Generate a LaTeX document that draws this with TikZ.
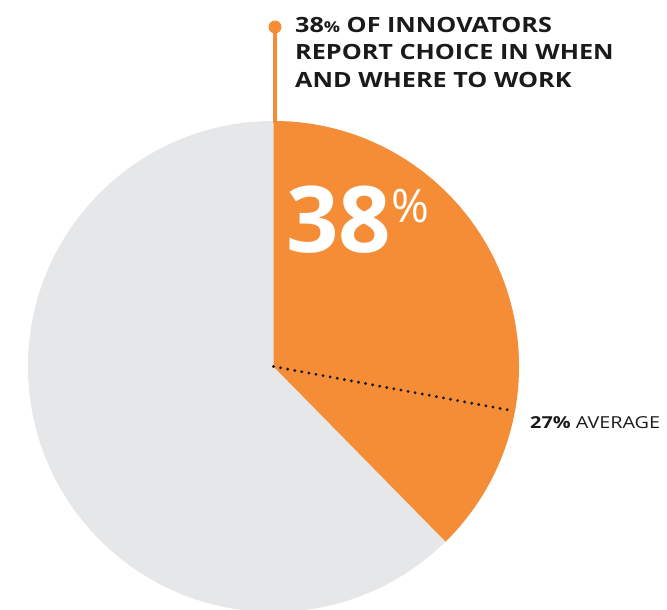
\documentclass[tikz,border=0pt]{standalone}
\usepackage{fontspec}
\setmainfont{Open Sans}
\newfontfamily\widefont[FakeStretch=1.2]{Open Sans}
\definecolor{pieorange}{HTML}{F58C36}
\definecolor{piegrey}{HTML}{E6E7E8}
\definecolor{ink}{HTML}{1A1A1A}
\begin{document}
\begin{tikzpicture}[x=1pt,y=-1pt,
  titletext/.style={anchor=base west, inner sep=0pt, text=ink, font=\widefont\fontsize{21}{21}\selectfont\bfseries},
  leader/.style={draw=pieorange, line width=3.3pt},
  avgline/.style={line width=3.2pt, line cap=round, dash pattern=on 0pt off 7.2pt, draw=ink}]
\useasboundingbox (0,0) rectangle (667,610);
\clip (0,0) rectangle (667,610);
\coordinate (C) at (273.5,366.5);
% pie
\fill[piegrey] (C) circle[radius=245.5];
\fill[pieorange] (C) -- ++(0,-245.5) arc[start angle=-90, end angle=45.5, radius=245.5] -- cycle;
% leader
\node[circle, fill=pieorange, inner sep=0pt, minimum size=13pt] (dot) at (275,27) {};
\coordinate (ptop) at (275,123);
\draw[leader] (dot.center) -- (ptop);
% title
\node[titletext] (t1) at (295,32.5) {38{\fontsize{15}{15}\selectfont\%} OF INNOVATORS};
\node[titletext] (t2) at (295,60) {REPORT CHOICE IN WHEN};
\node[titletext] (t3) at (295,87.5) {AND WHERE TO WORK};
% big number
\node[anchor=base west, inner sep=0pt, text=white, font=\fontsize{92}{92}\selectfont\bfseries] (big) at (286,252) {38};
\node[anchor=base west, inner sep=0pt, text=white, font=\fontsize{46}{46}\selectfont] (pct) at (big.base east) [yshift=30pt] {\%};
% average line
\coordinate (rim) at (514,411);
\draw[avgline] (C) -- (rim);
\node[anchor=base west, inner sep=0pt, text=ink, font=\widefont\fontsize{16.5}{16.5}\selectfont] (avg) at (530,428) {\textbf{27\%} AVERAGE};
\end{tikzpicture}
\end{document}
